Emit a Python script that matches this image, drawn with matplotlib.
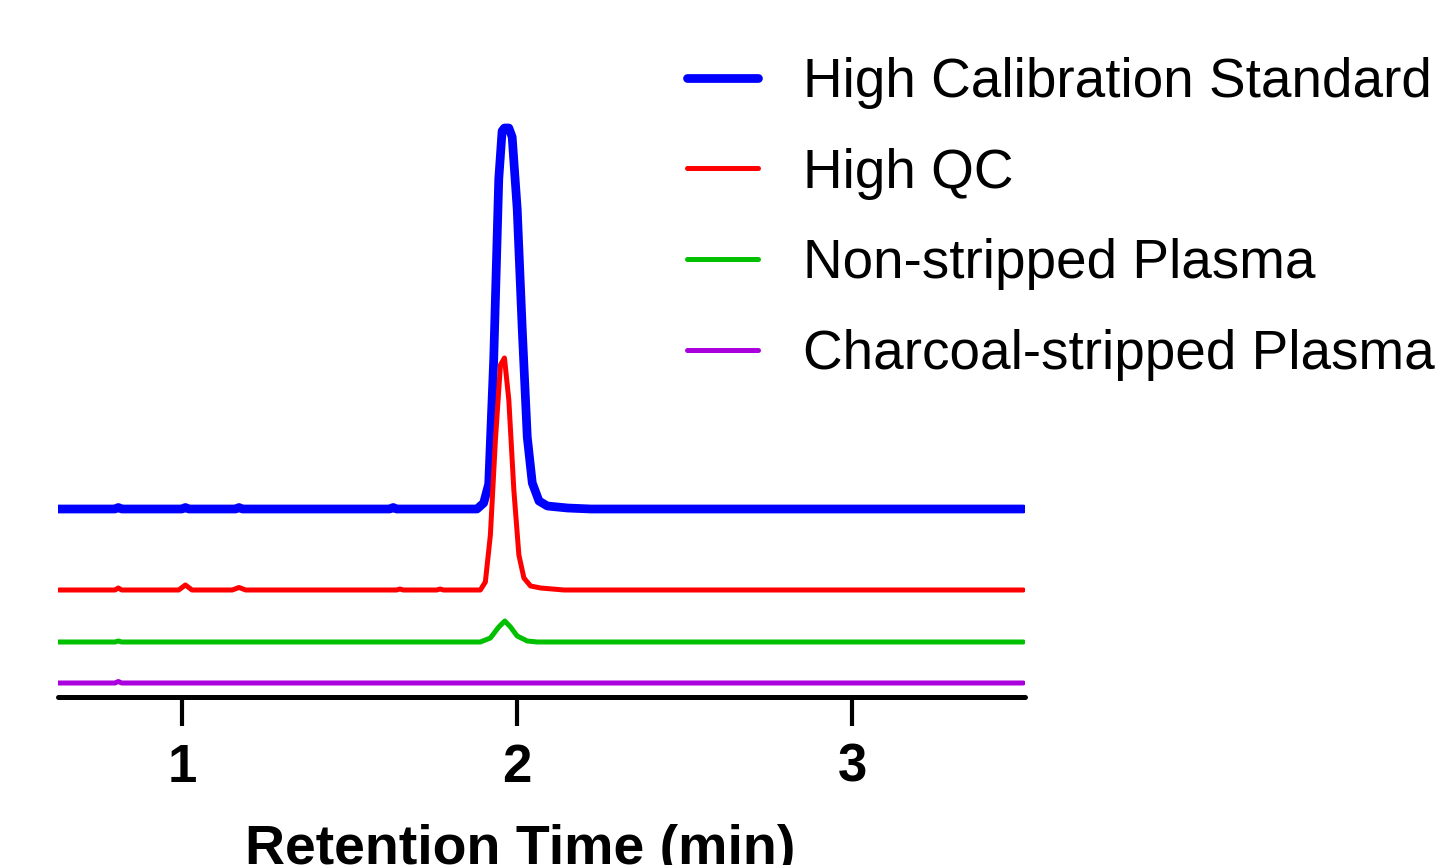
import numpy as np
import matplotlib
matplotlib.use("Agg")
import matplotlib.pyplot as plt

plt.rcParams['font.family'] = ['Liberation Sans', 'DejaVu Sans']

# Chromatogram traces: retention time (min) and signal above each trace's baseline
labels = ["High Calibration Standard", "High QC", "Non-stripped Plasma", "Charcoal-stripped Plasma"]
colors = ["#0000FF", "#FF0000", "#00C000", "#AA00DD"]
widths = [6.3, 3.6, 3.6, 3.6]
offsets = [188, 107, 55, 14]  # vertical stacking offset of each trace

blue_t = [0.63, 0.80, 0.81, 0.82, 1.00, 1.01, 1.02, 1.16, 1.17, 1.18, 1.62, 1.63, 1.64,
          1.88, 1.90, 1.915, 1.93, 1.945, 1.955, 1.962, 1.975, 1.985, 2.00, 2.015,
          2.03, 2.045, 2.065, 2.09, 2.15, 2.22, 3.51]
blue_y = [0, 0, 1.5, 0, 0, 1.5, 0, 0, 1.5, 0, 0, 1.5, 0,
          0, 6, 25, 150, 330, 378, 381, 381, 372, 300, 180,
          72, 26, 8, 3, 1, 0, 0]

red_t = [0.63, 0.80, 0.81, 0.82, 0.99, 1.01, 1.03, 1.15, 1.17, 1.19, 1.64, 1.65, 1.66,
         1.76, 1.77, 1.78, 1.89, 1.905, 1.92, 1.935, 1.95, 1.962, 1.975, 1.99, 2.005,
         2.02, 2.04, 2.07, 2.14, 3.51]
red_y = [0, 0, 2, 0, 0, 5, 0, 0, 2.5, 0, 0, 1, 0,
         0, 1, 0, 0, 8, 55, 150, 225, 232, 190, 100, 35,
         12, 4, 2, 0, 0]

green_t = [0.63, 0.80, 0.81, 0.82, 1.89, 1.92, 1.945, 1.963, 1.98, 2.00, 2.03, 2.06, 3.51]
green_y = [0, 0, 1, 0, 0, 4, 15, 21, 15, 6, 1, 0, 0]

purple_t = [0.63, 0.80, 0.81, 0.82, 3.51]
purple_y = [0, 0, 1.5, 0, 0]

traces = [(blue_t, blue_y), (red_t, red_y), (green_t, green_y), (purple_t, purple_y)]

fig = plt.figure(figsize=(14.41, 8.65), dpi=100)
ax = fig.add_axes([58 / 1441, 1 - 697 / 865, (1025 - 58) / 1441, 637 / 865])

for (t, y), off, c, lw, lab in zip(traces, offsets, colors, widths, labels):
    ax.plot(t, np.array(y) + off, color=c, lw=lw, label=lab,
            solid_capstyle='round', solid_joinstyle='round')

ax.set_xlim(0.63, 3.515)
ax.set_ylim(0, 637)
ax.set_xticks([1, 2, 3])
ax.set_yticks([])
for s in ['top', 'right', 'left']:
    ax.spines[s].set_visible(False)
ax.spines['bottom'].set_linewidth(3.6)
ax.spines['bottom'].set_capstyle('round')
ax.tick_params(axis='x', width=3.0, length=21, labelsize=38, pad=12)
for lbl in ax.get_xticklabels():
    lbl.set_fontweight('bold')
ax.set_xlabel("Retention Time (min)", fontsize=40, fontweight='bold')
ax.xaxis.set_label_coords((520 - 58) / (1025 - 58), -0.20)

leg = fig.legend(loc='upper left', bbox_to_anchor=(665 / 1441, 1 - 35 / 865),
                 frameon=False, fontsize=39.5, handlelength=1.29,
                 handletextpad=0.82, labelspacing=0.705, borderaxespad=0)

fig.savefig("out.png", dpi=100)
